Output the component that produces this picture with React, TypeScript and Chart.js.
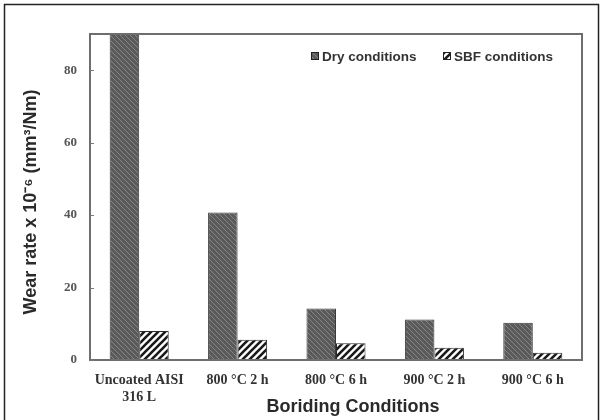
import React, { useEffect, useRef } from "react";
import { Chart, registerables } from "chart.js";

Chart.register(...registerables);

const categories: (string | string[])[] = [
  ["Uncoated AISI", "316 L"],
  "800 °C 2 h",
  "800 °C 6 h",
  "900 °C 2 h",
  "900 °C 6 h",
];
const dryValues = [95, 40.7, 14.2, 11.2, 10.3];
const sbfValues = [8.0, 5.6, 4.6, 3.4, 2.0];
const yTicks = [0, 20, 40, 60, 80];
const seriesLabels = ["Dry conditions", "SBF conditions"];
const xTitle = "Boriding Conditions";
const yTitle = "Wear rate x 10⁻⁶ (mm³/Nm)";

function makeDryPattern(ctx: CanvasRenderingContext2D) {
  const c = document.createElement("canvas");
  c.width = 5;
  c.height = 5;
  const g = c.getContext("2d")!;
  g.fillStyle = "#5a5a5a";
  g.fillRect(0, 0, 5, 5);
  g.strokeStyle = "#858585";
  g.lineWidth = 1;
  g.beginPath();
  g.moveTo(-1, -1);
  g.lineTo(6, 6);
  g.moveTo(-1, 4);
  g.lineTo(1, 6);
  g.moveTo(4, -1);
  g.lineTo(6, 1);
  g.stroke();
  return ctx.createPattern(c, "repeat")!;
}

function makeSbfPattern(ctx: CanvasRenderingContext2D) {
  const s = 7;
  const c = document.createElement("canvas");
  c.width = s;
  c.height = s;
  const g = c.getContext("2d")!;
  g.fillStyle = "#ffffff";
  g.fillRect(0, 0, s, s);
  g.strokeStyle = "#1a1a1a";
  g.lineWidth = 2.6;
  g.beginPath();
  g.moveTo(-1, s + 1);
  g.lineTo(s + 1, -1);
  g.moveTo(-2, 2);
  g.lineTo(2, -2);
  g.moveTo(s - 2, s + 2);
  g.lineTo(s + 2, s - 2);
  g.stroke();
  return ctx.createPattern(c, "repeat")!;
}

export default function App() {
  const ref = useRef<HTMLCanvasElement>(null);
  useEffect(() => {
    document.body.style.margin = "0";
    const canvas = ref.current!;
    const ctx = canvas.getContext("2d")!;
    const dryPat = makeDryPattern(ctx);
    const sbfPat = makeSbfPattern(ctx);

    const framePlugin = {
      id: "framePlugin",
      afterDraw(chart: any) {
        const c = chart.ctx as CanvasRenderingContext2D;
        const a = chart.chartArea;
        const y = chart.scales.y;
        c.save();
        // plot frame
        c.strokeStyle = "#6e6e6e";
        c.lineWidth = 2;
        c.strokeRect(a.left, a.top, a.right - a.left, a.bottom - a.top);
        // inward ticks
        c.lineWidth = 1;
        c.strokeStyle = "#777";
        yTicks.forEach((v) => {
          const py = Math.round(y.getPixelForValue(v)) + 0.5;
          c.beginPath();
          c.moveTo(a.left, py);
          c.lineTo(a.left + 4, py);
          c.stroke();
        });
        // outer frame
        c.strokeStyle = "#222";
        c.lineWidth = 1.5;
        c.strokeRect(4.5, 4.5, 594, 425);
        // axis titles
        c.fillStyle = "#2a2a2a";
        c.textAlign = "center";
        c.textBaseline = "middle";
        c.font = "bold 18px 'Liberation Sans', Arial, sans-serif";
        c.fillText(xTitle, 353, 407);
        c.save();
        c.translate(31, 202);
        c.rotate(-Math.PI / 2);
        c.fillText(yTitle, 0, 0);
        c.restore();
        // legend
        c.textAlign = "left";
        c.font = "bold 13.5px 'Liberation Sans', Arial, sans-serif";
        const ly = 56;
        const items = [
          { x: 311, fill: dryPat, label: seriesLabels[0] },
          { x: 443, fill: sbfPat, label: seriesLabels[1] },
        ];
        items.forEach((it) => {
          c.fillStyle = it.fill as any;
          c.fillRect(it.x, ly - 4, 8, 8);
          c.strokeStyle = "#222";
          c.lineWidth = 1;
          c.strokeRect(it.x + 0.5, ly - 3.5, 7, 7);
          c.fillStyle = "#333";
          c.fillText(it.label, it.x + 11, ly + 1);
        });
        c.restore();
      },
    };

    const chart = new Chart(canvas, {
      type: "bar",
      data: {
        labels: categories,
        datasets: [
          {
            label: seriesLabels[0],
            data: dryValues,
            backgroundColor: dryPat,
            borderColor: "#3a3a3a",
            borderWidth: 1,
            categoryPercentage: 0.6,
            barPercentage: 1.0,
          },
          {
            label: seriesLabels[1],
            data: sbfValues,
            backgroundColor: sbfPat,
            borderColor: "#2a2a2a",
            borderWidth: 1,
            categoryPercentage: 0.6,
            barPercentage: 1.0,
          },
        ],
      },
      options: {
        animation: false,
        responsive: false,
        layout: { padding: { left: 0, right: 20, top: 34, bottom: 0 } },
        plugins: {
          legend: { display: false },
          tooltip: { enabled: false },
        },
        scales: {
          x: {
            grid: { display: false, drawTicks: false },
            border: { display: false },
            ticks: {
              color: "#333",
              padding: 12,
              maxRotation: 0,
              autoSkip: false,
              font: { family: "'Liberation Serif', 'Times New Roman', serif", weight: "bold", size: 14 },
            },
            afterFit(scale: any) {
              scale.height = 60;
            },
          },
          y: {
            min: 0,
            max: 90,
            grid: { display: false, drawTicks: false },
            border: { display: false },
            afterBuildTicks(scale: any) {
              scale.ticks = yTicks.map((v) => ({ value: v }));
            },
            ticks: {
              color: "#555",
              padding: 13,
              font: { family: "'Liberation Serif', 'Times New Roman', serif", weight: "bold", size: 13 },
            },
            afterFit(scale: any) {
              scale.width = 90;
            },
          },
        },
      },
      plugins: [framePlugin],
    });
    return () => chart.destroy();
  }, []);
  return <canvas ref={ref} width={602} height={420} style={{ display: "block" }} />;
}
